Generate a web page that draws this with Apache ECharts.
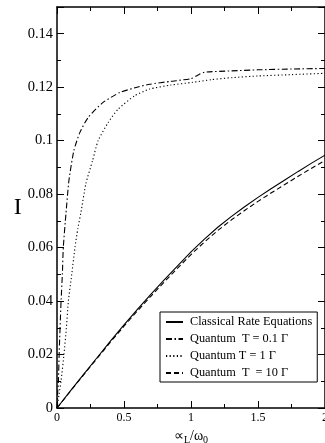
<!DOCTYPE html>
<html>
<head>
<meta charset="utf-8">
<script src="https://cdn.jsdelivr.net/npm/echarts@6/dist/echarts.min.js"></script>
<style>html,body{margin:0;padding:0;background:#fff}#c{width:325px;height:443px}</style>
</head>
<body>
<div id="c"></div>
<script>
// Series names
var seriesNames = ['Classical Rate Equations', 'Quantum  T = 0.1 \u0393', 'Quantum T = 1 \u0393', 'Quantum  T  = 10 \u0393'];

// Classical & T=10Γ share x samples
var xSmooth = [0, 0.1, 0.2, 0.3, 0.4, 0.5, 0.6, 0.7, 0.8, 0.9, 1.0, 1.1, 1.2, 1.3, 1.4, 1.5, 1.6, 1.7, 1.8, 1.9, 2.0];
var yClassical = [0, 0.0064, 0.0127, 0.0189, 0.0251, 0.0311, 0.0369, 0.0425, 0.0479, 0.0532, 0.0584, 0.0632, 0.0676, 0.0716, 0.0753, 0.0788, 0.0821, 0.0853, 0.0885, 0.0916, 0.0946];
var yT10 = [0, 0.0063, 0.0125, 0.0186, 0.0247, 0.0306, 0.0363, 0.0418, 0.0471, 0.0523, 0.0574, 0.0621, 0.0664, 0.0703, 0.0739, 0.0773, 0.0805, 0.0836, 0.0867, 0.0897, 0.0926];

// T = 0.1 Γ
var xT01 = [0, 0.004, 0.01, 0.017, 0.03, 0.04, 0.047, 0.067, 0.089, 0.126, 0.171, 0.233, 0.344, 0.468, 0.605, 0.691, 0.85, 1.0, 1.05, 1.1, 1.3, 1.5, 1.75, 2.0];
var yT01 = [0, 0.005, 0.0093, 0.0216, 0.0396, 0.05, 0.06, 0.0728, 0.0851, 0.0963, 0.1031, 0.1087, 0.1143, 0.118, 0.1201, 0.1211, 0.1222, 0.1232, 0.1245, 0.1256, 0.1261, 0.1265, 0.1268, 0.127];

// T = 1 Γ
var xT1 = [0, 0.015, 0.03, 0.052, 0.07, 0.085, 0.11, 0.134, 0.155, 0.178, 0.216, 0.265, 0.307, 0.382, 0.456, 0.58, 0.691, 0.85, 1.01, 1.15, 1.31, 1.5, 1.75, 2.0];
var yT1 = [0, 0.005, 0.01, 0.02, 0.03, 0.04, 0.05, 0.06, 0.067, 0.073, 0.084, 0.0925, 0.1, 0.1068, 0.1118, 0.1168, 0.1193, 0.1208, 0.1218, 0.1228, 0.1236, 0.1242, 0.1247, 0.1252];

function pairs(xs, ys) { return xs.map(function (x, i) { return [x, ys[i]]; }); }

var serif = 'Liberation Serif';
var frame = { show: true, onZero: false, lineStyle: { color: '#000', width: 1.5 } };
function baseX(pos, showLabel) {
  return {
    type: 'value', position: pos, min: 0, max: 2, interval: 0.5,
    axisLine: frame,
    axisTick: { show: true, inside: true, length: 7, lineStyle: { color: '#000', width: 1 } },
    minorTick: { show: true, splitNumber: 2, length: 4, lineStyle: { color: '#000', width: 1 } },
    splitLine: { show: false }, minorSplitLine: { show: false },
    axisLabel: { show: showLabel, color: '#000', fontFamily: serif, fontSize: 12, margin: 4, showMaxLabel: true, showMinLabel: true },
  };
}
function baseY(pos, showLabel) {
  return {
    type: 'value', position: pos, min: 0, max: 0.15, interval: 0.02,
    axisLine: frame,
    axisTick: { show: true, inside: true, length: 7, lineStyle: { color: '#000', width: 1 } },
    minorTick: { show: true, splitNumber: 2, length: 4, lineStyle: { color: '#000', width: 1 } },
    splitLine: { show: false }, minorSplitLine: { show: false },
    axisLabel: { show: showLabel, color: '#000', fontFamily: serif, fontSize: 14.5, margin: 4, showMaxLabel: false, showMinLabel: true },
  };
}

var xb = baseX('bottom', true);
xb.name = '{a|\u221D}{s|L}{a|/\u03C9}{s|0}';
xb.nameLocation = 'middle';
xb.nameGap = 16;
xb.nameTextStyle = {
  color: '#000', fontFamily: serif,
  rich: {
    a: { fontSize: 14, fontFamily: serif, color: '#000' },
    s: { fontSize: 10, fontFamily: serif, color: '#000', padding: [9, 0, 0, 0] }
  }
};
var xt = baseX('top', false);
var yl = baseY('left', true);
yl.name = 'I';
yl.nameLocation = 'middle';
yl.nameRotate = 0;
yl.nameGap = 30;
yl.nameTextStyle = { color: '#000', fontFamily: serif, fontSize: 24 };
var yr = baseY('right', false);

function lineSeries(name, data, dash, sm) {
  return {
    name: name, type: 'line', data: data, xAxisIndex: 0, yAxisIndex: 0,
    symbol: 'none', smooth: sm,
    lineStyle: { color: '#000', width: 1.1, type: dash },
    itemStyle: { color: '#000' },
    emphasis: { disabled: true }, animation: false
  };
}

var chart = echarts.init(document.getElementById('c'), null, { renderer: 'canvas' });
chart.setOption({
  animation: false,
  backgroundColor: '#fff',
  grid: { left: 57, top: 7, width: 268, height: 401, containLabel: false, outerBoundsMode: 'none' },
  xAxis: [xb, xt],
  yAxis: [yl, yr],
  legend: {
    orient: 'vertical', left: 160, top: 312,
    data: seriesNames,
    itemWidth: 17, itemHeight: 12, itemGap: 5,
    padding: [4, 5, 3, 5],
    borderColor: '#000', borderWidth: 1, backgroundColor: '#fff',
    selectedMode: false,
    itemStyle: { color: 'rgba(0,0,0,0)', borderColor: 'rgba(0,0,0,0)', borderWidth: 0, opacity: 0 },
    textStyle: { color: '#000', fontFamily: serif, fontSize: 12.3, padding: [0, 0, 0, 2] }
  },
  series: [
    lineSeries(seriesNames[0], pairs(xSmooth, yClassical), 'solid', false),
    lineSeries(seriesNames[1], pairs(xT01, yT01), [6, 2.5, 1.5, 2.5], 0.2),
    lineSeries(seriesNames[2], pairs(xT1, yT1), [1.2, 2.4], 0.2),
    lineSeries(seriesNames[3], pairs(xSmooth, yT10), [5, 3], false)
  ]
});
</script>
</body>
</html>
